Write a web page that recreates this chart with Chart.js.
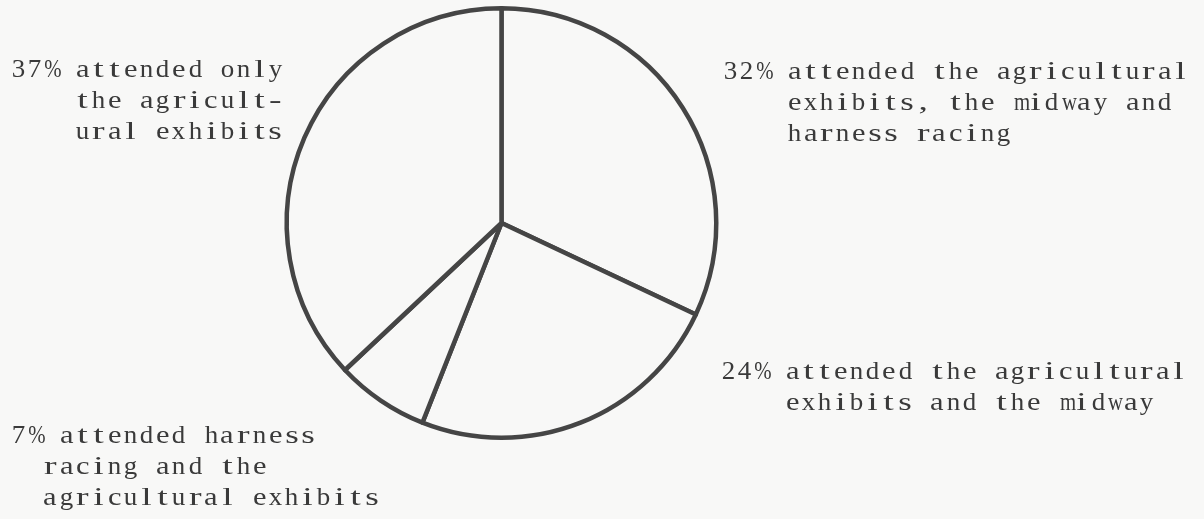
<!DOCTYPE html>
<html>
<head>
<meta charset="utf-8">
<script src="https://cdn.jsdelivr.net/npm/chart.js@4"></script>
<style>
  html, body { margin: 0; padding: 0; background: #f8f8f7; }
  #wrap { position: relative; width: 1204px; height: 519px; overflow: hidden; }
  #pie { position: absolute; left: 0; top: 0; }
  .lbl {
    position: absolute;
    font-family: "Liberation Serif", "DejaVu Serif", serif;
    font-size: 26px;
    line-height: 31px;
    color: #3a3a3a;
    white-space: pre;
  }
  .row { height: 31px; }
  .ch { display: inline-block; width: 16.1px; text-align: center; }
  .ch span { display: inline-block; }
</style>
</head>
<body>
<div id="wrap">
  <canvas id="pie" width="1204" height="519"></canvas>
  <div class="lbl" id="lbl0" style="left:10px; top:53px;"></div>
  <div class="lbl" id="lbl1" style="left:722px; top:55px;"></div>
  <div class="lbl" id="lbl2" style="left:720px; top:355px;"></div>
  <div class="lbl" id="lbl3" style="left:10px; top:419px;"></div>
</div>
<script>
(() => {
  const $ = (id) => document.getElementById(id);

  // clockwise from 12 o'clock
  const segments = ["agri+midway+harness", "agri+midway", "harness+agri", "agri only"];
  const shares = [32, 24, 7, 37];
  const labelHeads = [
    "37% attended only",
    "32% attended the agricultural",
    "24% attended the agricultural",
    "7% attended harness",
  ];
  const labelLines = [
    ["    the agricult-", "    ural exhibits"],
    ["    exhibits, the midway and", "    harness racing"],
    ["    exhibits and the midway"],
    ["  racing and the", "  agricultural exhibits"],
  ];

  // typewriter look: serif glyphs stretched/squeezed into fixed-width cells
  const mctx = document.createElement("canvas").getContext("2d");
  mctx.font = '26px "Liberation Serif"';
  const glyphW = 13.5;

  labelHeads.forEach((head, i) => {
    const box = $("lbl" + i);
    [head, ...labelLines[i]].forEach((line) => {
      const row = document.createElement("div");
      row.className = "row";
      for (const c of line) {
        const cell = document.createElement("span");
        cell.className = "ch";
        const g = document.createElement("span");
        g.textContent = c;
        if (c !== " ") {
          const w = mctx.measureText(c).width || glyphW;
          const k = Math.min(1.45, Math.max(0.8, glyphW / w));
          g.style.transform = `scaleX(${k.toFixed(3)})`;
        }
        cell.appendChild(g);
        row.appendChild(cell);
      }
      box.appendChild(row);
    });
  });

  const ink = "#454545";
  const paper = "#f8f8f7";

  new Chart($("pie"), {
    type: "pie",
    data: {
      labels: segments,
      datasets: [
        {
          data: shares,
          backgroundColor: paper,
          borderColor: ink,
          borderWidth: 4.5,
          borderJoinStyle: "round",
        },
      ],
    },
    options: {
      responsive: false,
      animation: false,
      devicePixelRatio: 1,
      rotation: 0,
      layout: { padding: { left: 284, right: 485, top: 6, bottom: 79 } },
      plugins: {
        legend: { display: false },
        tooltip: { enabled: false },
      },
    },
  });
})();
</script>
</body>
</html>
